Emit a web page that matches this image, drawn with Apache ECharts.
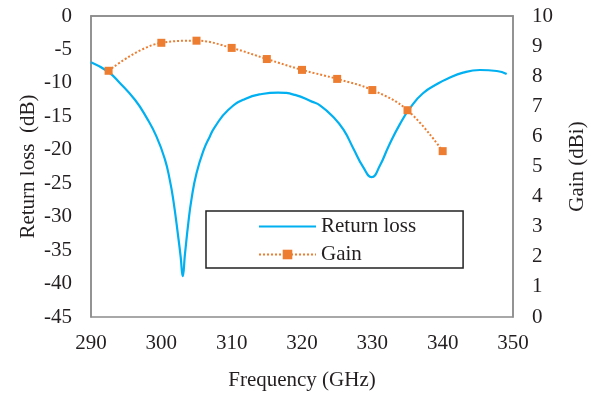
<!DOCTYPE html>
<html>
<head>
<meta charset="utf-8">
<script src="https://cdn.jsdelivr.net/npm/echarts@6/dist/echarts.min.js"></script>
<style>
  html, body { margin: 0; padding: 0; background: #fff; }
  #chart { width: 599px; height: 397px; }
</style>
</head>
<body>
<div id="chart"></div>
<script>
// return loss curve (frequency in GHz, value in dB)
var rlFreq = [290, 292.4, 294.1, 296.3, 297.9, 299.3, 300.5, 301.2, 301.7, 302.4, 302.75,
  303.04, 303.37, 303.83, 304.3, 305.0, 306.0, 306.9, 307.6, 309.5, 311.9, 314.3, 316.6,
  319, 321.4, 322.6, 324.45, 325.9, 327.3, 328.7, 329.9, 331.1, 332.3, 333.9, 335.4, 337.2,
  339.4, 340.6, 342.9, 345.3, 347.7, 349.1];
var rlValue = [-6.9, -8.3, -10.0, -12.6, -15.2, -18.0, -21.4, -24.5, -27.5, -33.0, -36.0,
  -38.9, -35.5, -31.0, -27.3, -23.5, -20.1, -18.0, -16.6, -14.05, -12.4, -11.66, -11.46,
  -11.8, -12.8, -13.4, -15.1, -17.0, -19.8, -22.6, -24.1, -22.3, -19.5, -16.2, -13.7, -11.55,
  -10.06, -9.42, -8.47, -8.07, -8.22, -8.67];

// gain (dBi)
var gainFreq = [292.5, 300, 305, 310, 315, 320, 325, 330, 335, 340];
var gainValue = [8.18, 9.11, 9.18, 8.94, 8.57, 8.21, 7.91, 7.54, 6.87, 5.51];

function pairs(xs, ys) {
  var out = [];
  for (var i = 0; i < xs.length; i++) {
    out.push([xs[i], ys[i]]);
  }
  return out;
}

var textColor = "#231f20";
var axisColor = "#8c8c8c";
var font = "Liberation Serif";

var myChart = echarts.init(document.getElementById("chart"));
var option = {
  animation: false,
  textStyle: { fontFamily: font },
  grid: {
    left: 91,
    right: 86,
    top: 16,
    bottom: 80,
    show: true,
    borderColor: axisColor,
    borderWidth: 1.5,
  },
  legend: {
    orient: "vertical",
    left: 206,
    top: 211,
    padding: [5, 47, 3, 52],
    itemWidth: 57,
    itemHeight: 12,
    itemGap: 7,
    borderColor: "#222",
    borderWidth: 1.5,
    backgroundColor: "#fff",
    textStyle: { fontFamily: font, fontSize: 21, color: textColor },
    data: [
      { name: "Return loss", itemStyle: { opacity: 0 } },
      { name: "Gain" },
    ],
  },
  xAxis: {
    type: "value",
    min: 290,
    max: 350,
    interval: 10,
    name: "Frequency (GHz)",
    nameLocation: "middle",
    nameGap: 53,
    nameTextStyle: { fontFamily: font, fontSize: 21, color: textColor },
    axisLine: { lineStyle: { color: axisColor, width: 1.5 } },
    axisTick: { show: false },
    splitLine: { show: false },
    axisLabel: { fontFamily: font, fontSize: 21, color: textColor, margin: 16 },
  },
  yAxis: [
    {
      type: "value",
      min: -45,
      max: 0,
      interval: 5,
      name: "Return loss  (dB)",
      nameLocation: "middle",
      nameGap: 52,
      nameRotate: 90,
      nameMoveOverlap: false,
      nameTextStyle: { fontFamily: font, fontSize: 21, color: textColor },
      axisLine: { show: true, lineStyle: { color: axisColor, width: 1.5 } },
      axisTick: { show: false },
      splitLine: { show: false },
      axisLabel: { fontFamily: font, fontSize: 21, color: textColor, margin: 19 },
    },
    {
      type: "value",
      min: 0,
      max: 10,
      interval: 1,
      position: "right",
      name: "Gain (dBi)",
      nameLocation: "middle",
      nameGap: 54,
      nameRotate: 90,
      nameTextStyle: { fontFamily: font, fontSize: 21, color: textColor },
      axisLine: { show: true, lineStyle: { color: axisColor, width: 1.5 } },
      axisTick: { show: false },
      splitLine: { show: false },
      axisLabel: { fontFamily: font, fontSize: 21, color: textColor, margin: 19 },
    },
  ],
  series: [
    {
      name: "Return loss",
      type: "line",
      smooth: 0.5,
      showSymbol: false,
      symbol: "none",
      color: "#00b0f0",
      lineStyle: { color: "#00b0f0", width: 2.2 },
      data: pairs(rlFreq, rlValue),
    },
    {
      name: "Gain",
      type: "line",
      yAxisIndex: 1,
      smooth: 0.4,
      symbol: "rect",
      symbolSize: 8,
      color: "#ed7d31",
      itemStyle: { color: "#ed7d31" },
      lineStyle: { color: "#ed7d31", width: 2, type: "dotted" },
      data: pairs(gainFreq, gainValue),
    },
  ],
};

option && myChart.setOption(option);
</script>
</body>
</html>
